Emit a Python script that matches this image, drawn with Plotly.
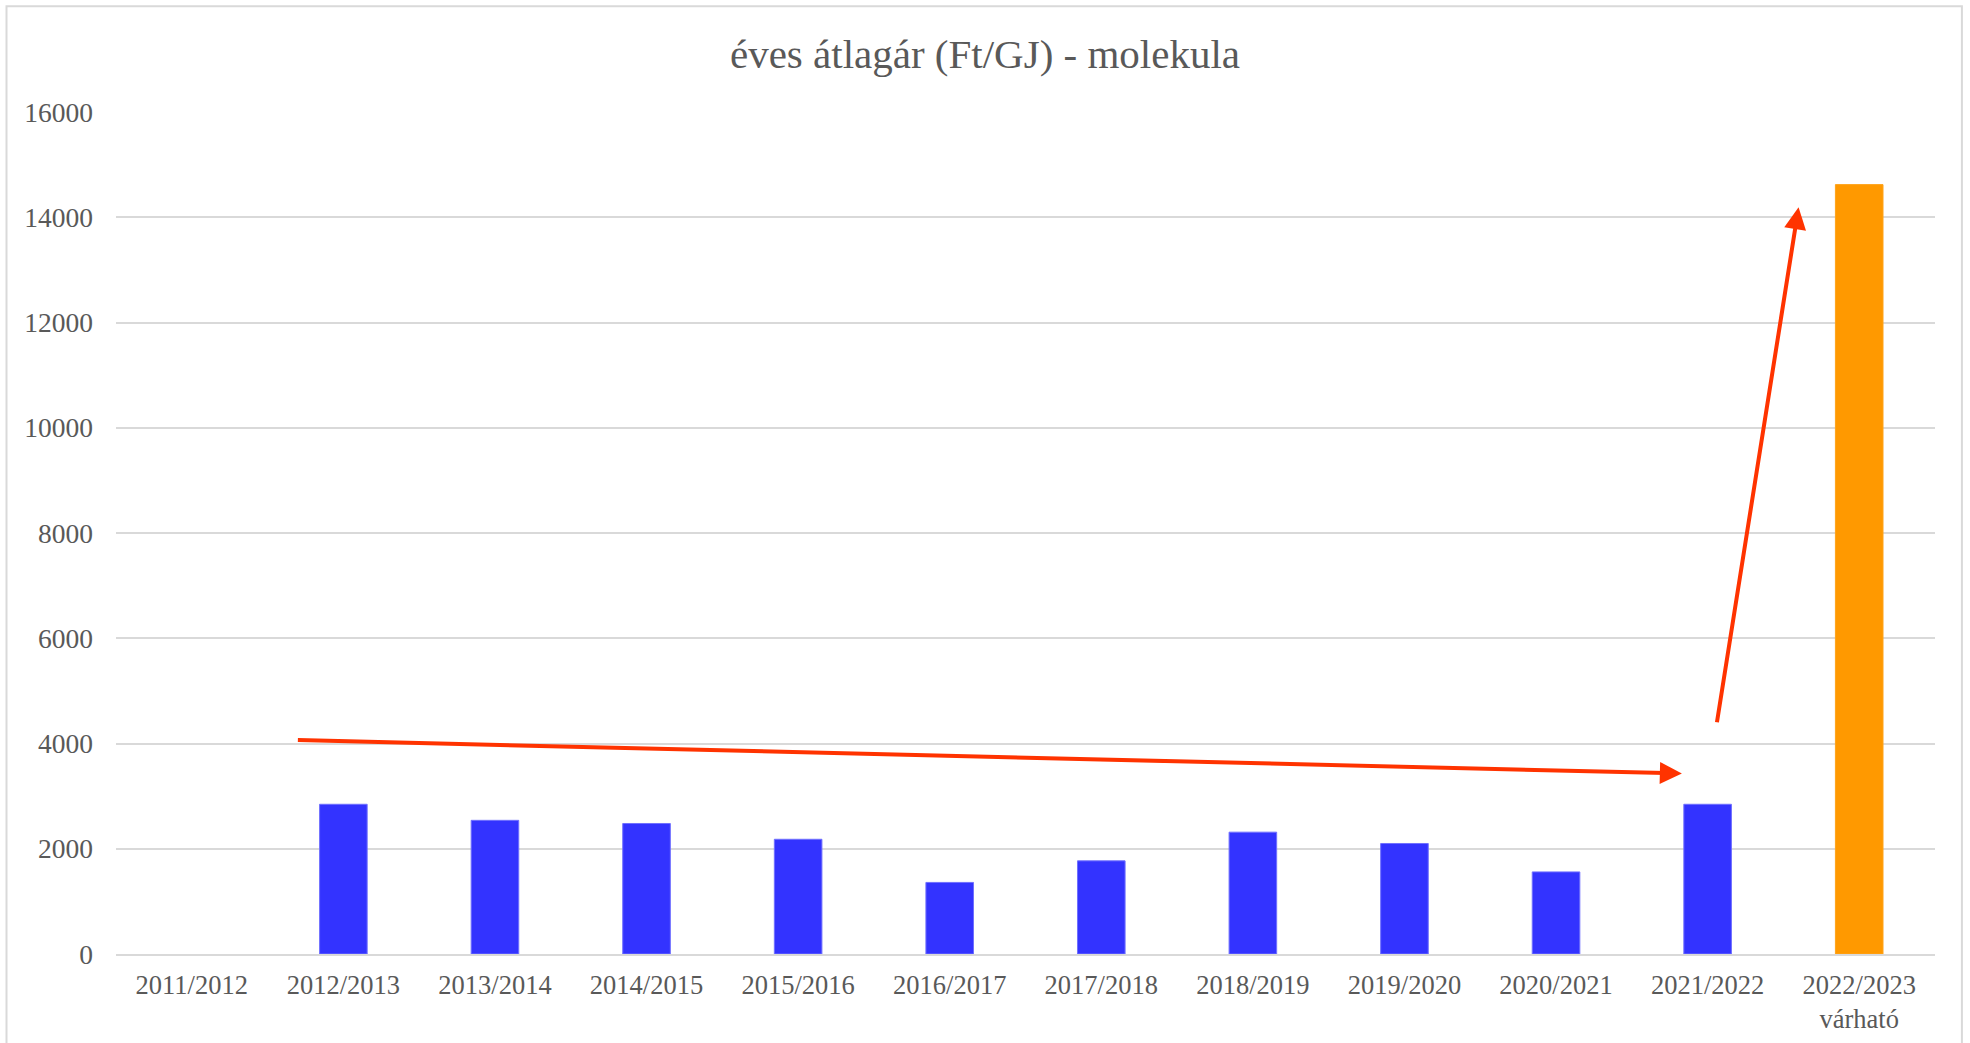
import plotly.graph_objects as go

categories = ["2011/2012", "2012/2013", "2013/2014", "2014/2015", "2015/2016", "2016/2017",
              "2017/2018", "2018/2019", "2019/2020", "2020/2021", "2021/2022", "2022/2023<br>várható"]
values = [None, 2845, 2540, 2480, 2180, 1360, 1770, 2315, 2100, 1560, 2845, 14620]
bar_colors = ["#3333FF"] * 11 + ["#FF9900"]
line_colors = ["#7070FF"] * 11 + ["#FFA31A"]

# trend arrows: (tail x index, tail value) -> (tip x index, tip value)
arrow_tail_x = [0.69, 10.06]
arrow_tail_y = [4065, 4375]
arrow_tip_x = [9.83, 10.60]
arrow_tip_y = [3430, 14190]

y_ticks = [0, 2000, 4000, 6000, 8000, 10000, 12000, 14000, 16000]

FONT = "Liberation Serif, Times New Roman, serif"
GREY = "#595959"

fig = go.Figure()
fig.add_trace(go.Bar(
    x=list(range(len(categories))), y=values,
    marker=dict(color=bar_colors, line=dict(color=line_colors, width=1)),
    showlegend=False, hoverinfo="x+y",
))

for tx, ty, hx, hy in zip(arrow_tail_x, arrow_tail_y, arrow_tip_x, arrow_tip_y):
    fig.add_annotation(
        x=hx, y=hy, ax=tx, ay=ty, xref="x", yref="y", axref="x", ayref="y",
        text="", showarrow=True, arrowhead=2, arrowsize=1.1, arrowwidth=4,
        arrowcolor="#FF3300", standoff=0, startstandoff=0,
    )

fig.add_shape(type="rect", xref="paper", yref="paper",
              x0=-0.0602, x1=1.0148, y0=-0.115, y1=1.1257,
              line=dict(color="#D9D9D9", width=2), fillcolor="rgba(0,0,0,0)", layer="below")

fig.update_layout(
    width=1970, height=1043,
    margin=dict(l=116, r=35, t=112, b=89, autoexpand=False),
    paper_bgcolor="white", plot_bgcolor="white",
    bargap=0.686,
    title=dict(text="éves átlagár (Ft/GJ) - molekula", x=0.5, xanchor="center",
               y=1 - 54 / 1043, yanchor="middle", yref="container",
               font=dict(family=FONT, size=41, color=GREY)),
    xaxis=dict(
        tickmode="array", tickvals=list(range(len(categories))), ticktext=categories,
        range=[-0.5, len(categories) - 0.5], automargin=False,
        showgrid=False, showline=True, linecolor="#D9D9D9", linewidth=2,
        tickfont=dict(family=FONT, size=26.5, color=GREY), ticks="", ticklabelstandoff=6,
        zeroline=False,
    ),
    yaxis=dict(
        range=[0, 16000], tickvals=y_ticks, ticktext=[str(v) for v in y_ticks],
        showgrid=True, gridcolor="#D9D9D9", gridwidth=1.5, automargin=False,
        zeroline=False, showline=False,
        tickfont=dict(family=FONT, size=27.5, color=GREY), ticks="", ticklabelstandoff=22,
    ),
)

fig.write_html("out.html", config={"displayModeBar": False},
               post_script="document.body.style.margin='0px';")
